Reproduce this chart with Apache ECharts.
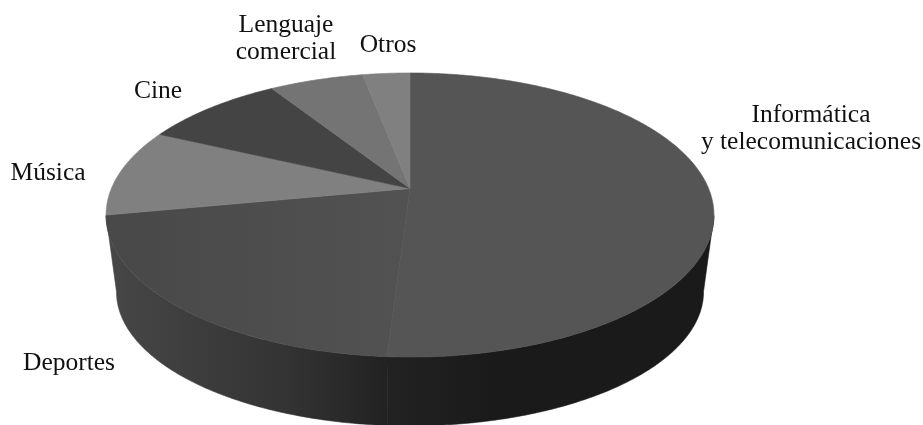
<!DOCTYPE html>
<html>
<head>
<meta charset="utf-8">
<style>
  html, body { margin: 0; background: #fff; }
  #chart { width: 923px; height: 425px; }
</style>
<script src="https://cdn.jsdelivr.net/npm/echarts@6/dist/echarts.min.js"></script>
</head>
<body>
<div id="chart"></div>
<script>
// Clockwise from 12 o'clock
const categories = ['Informática\ny telecomunicaciones', 'Deportes', 'Música', 'Cine', 'Lenguaje\ncomercial', 'Otros'];
const shares = [51, 21, 10, 9, 6, 3];

const total = shares.reduce((a, b) => a + b, 0);

// Perspective of the disc: the same tilt for both faces, only the plane differs
const topFace = { cx: 410, cy: 188.5, a: 137.1, d: 298.6, c: -0.1866 };
const bottomFace = { cx: 410, cy: 266, a: 129, d: 288, c: -0.193 };
const wallFrom = 101, wallTo = 259;

const faceFill = [
  '#555555',
  { type: 'linear', x: 106, y: 0, x2: 410, y2: 0, global: true, colorStops: [{ offset: 0, color: '#484848' }, { offset: 1, color: '#525252' }] },
  '#808080', '#444444', '#747474', '#808080'
];
const wallFill = {
  type: 'linear', x: 106, y: 0, x2: 560, y2: 0, global: true,
  colorStops: [
    { offset: 0, color: '#474747' },
    { offset: 0.4, color: '#333333' },
    { offset: 0.62, color: '#222222' },
    { offset: 0.85, color: '#1a1a1a' },
    { offset: 1, color: '#1a1a1a' }
  ]
};
const labelAt = [[811, 129], [69, 363], [48, 173], [158, 91], [286, 38.5], [388, 45]];

function project(face, deg) {
  const t = deg * Math.PI / 180;
  const u = Math.sin(t), v = -Math.cos(t);
  const w = 1 + face.c * v;
  return [face.cx + face.d * u / w, face.cy + face.a * v / w];
}

function arc(face, from, to) {
  const pts = [];
  const n = Math.max(2, Math.ceil((to - from) * 2));
  for (let i = 0; i <= n; i++) pts.push(project(face, from + (to - from) * i / n));
  return pts;
}

function renderItem(params, api) {
  const i = params.dataIndex;
  let before = 0;
  for (let k = 0; k < i; k++) before += shares[k];
  const from = before / total * 360;
  const to = (before + api.value(0)) / total * 360;
  const children = [];

  const wa = Math.max(from, wallFrom), wb = Math.min(to, wallTo);
  if (wb > wa) {
    children.push({
      type: 'polygon',
      shape: { points: arc(topFace, wa, wb).concat(arc(bottomFace, wa, wb).reverse()) },
      style: { fill: wallFill, stroke: wallFill, lineWidth: 0.6 }
    });
  }
  children.push({
    type: 'polygon',
    shape: { points: [[topFace.cx, topFace.cy]].concat(arc(topFace, from, to)) },
    style: { fill: faceFill[i], stroke: faceFill[i], lineWidth: 0.6 }
  });
  children.push({
    type: 'text',
    x: labelAt[i][0],
    y: labelAt[i][1],
    style: {
      text: categories[i],
      fill: '#111',
      font: '25.5px "Liberation Serif"',
      lineHeight: 27,
      align: 'center',
      verticalAlign: 'middle'
    }
  });
  return { type: 'group', children: children };
}

const chart = echarts.init(document.getElementById('chart'), null, { renderer: 'canvas' });
chart.setOption({
  backgroundColor: '#fff',
  animation: false,
  series: [{
    type: 'custom',
    coordinateSystem: 'none',
    clip: false,
    renderItem: renderItem,
    encode: { value: 0 },
    data: shares.map(v => [v])
  }]
});
</script>
</body>
</html>
